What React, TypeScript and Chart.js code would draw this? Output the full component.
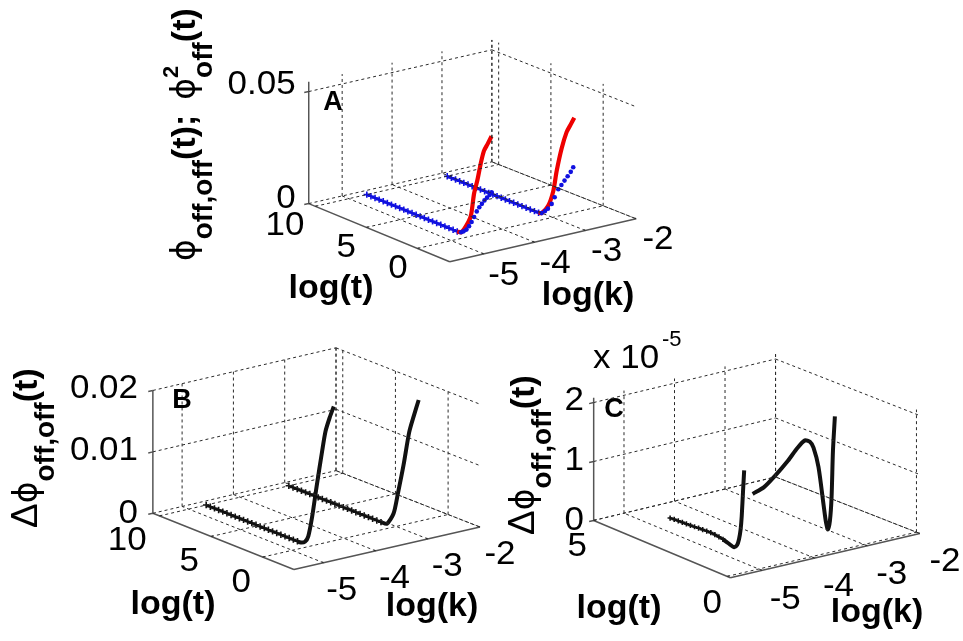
import React, { useEffect, useRef } from "react";
import { Chart, registerables } from "chart.js";

Chart.register(...registerables);

// ---- data ----
const kTicks = [-5, -4, -3, -2];
const tTicksLong = [0, 5, 10];
const tTicksShort = [0, 5];
const zTicksA = [0, 0.05];
const zTicksB = [0, 0.01, 0.02];
const zTicksC = [0, 1, 2];
const zLabelsA = ["0", "0.05"];
const zLabelsB = ["0", "0.01", "0.02"];
const zLabelsC = ["0", "1", "2"];

const kA1 = -4.64;
const kA2 = -3.03;
const kB1 = -4.66;
const kB2 = -3.05;
const kC1 = -4.57;
const kC2 = -2.97;

const flatT = [10, 9.6, 9.2, 8.8, 8.4, 8, 7.6, 7.2, 6.8, 6.4, 6, 5.6, 5.2, 4.8, 4.4, 4, 3.6, 3.2, 2.8, 2.4, 2, 1.6, 1.2];
const flatZ = [0, 0, 0, 0, 0, 0, 0, 0, 0, 0, 0, 0, 0, 0, 0, 0, 0, 0, 0, 0, 0, 0, 0];

const aRed1T = [1.2, 0.83, 0.36, -0.12, -0.44, -0.76, -1.08, -1.4, -1.75, -2.14];
const aRed1Z = [0, 0.0003, 0.0038, 0.0093, 0.02, 0.0265, 0.0344, 0.0408, 0.0445, 0.0487];
const aBlue1T = [0.83, 0.58, 0.3, 0.05, -0.2, -0.45, -0.7, -0.95, -1.2, -1.45, -1.7, -1.95, -2.14];
const aBlue1Z = [0.0003, 0.0012, 0.0025, 0.0045, 0.0068, 0.0095, 0.0125, 0.0148, 0.0168, 0.0188, 0.0205, 0.0222, 0.0237];
const aRed2T = [1.2, 0.9, 0.26, -0.22, -0.54, -1.02, -1.5, -1.9, -2.24];
const aRed2Z = [0, 0.0004, 0.005, 0.0124, 0.0218, 0.0328, 0.041, 0.0452, 0.0488];
const aBlue2T = [0.9, 0.58, 0.3, -0.06, -0.35, -0.7, -1, -1.3, -1.6, -1.9, -2.14];
const aBlue2Z = [0.0004, 0.0019, 0.0035, 0.0063, 0.0098, 0.014, 0.0165, 0.019, 0.0215, 0.024, 0.0265];

const b1T = [1.2, 0.89, 0.48, 0.16, -0.22, -0.64, -1.18, -1.5, -1.9, -2.3];
const b1Z = [0, 0, 0.0004, 0.0015, 0.005, 0.0101, 0.0163, 0.0197, 0.0222, 0.0243];
const b2T = [1.2, 0.64, 0, -0.41, -0.96, -1.5, -1.95, -2.4];
const b2Z = [0, 0.0001, 0.0022, 0.0057, 0.0108, 0.0165, 0.0195, 0.0223];

const c1FlatT = [4.1, 3.95, 3.8, 3.65, 3.5, 3.35, 3.2, 3.05, 2.9, 2.75, 2.6, 2.45, 2.3, 2.15];
const c1FlatZ = [0, 0.005, 0.01, 0.012, 0.015, 0.017, 0.022, 0.027, 0.03, 0.034, 0.036, 0.03, 0.02, 0.008];
const c1T = [2.15, 2.0, 1.9, 1.74, 1.63, 1.56, 1.5, 1.46, 1.41, 1.37];
const c1Z = [0.008, -0.015, -0.03, -0.05, 0.01, 0.12, 0.3, 0.53, 0.98, 1.325];
const c2T = [4.06, 3.65, 3.28, 2.79, 2.45, 2.18, 2.0, 1.87, 1.69, 1.5, 1.42, 1.35, 1.28, 1.22, 1.17, 1.1];
const c2Z = [0.087, 0.28, 0.528, 0.889, 1.17, 1.35, 1.36, 1.286, 0.989, 0.356, 0.1, -0.006, 0.15, 0.56, 1.36, 1.96];

// ---- how each little 3-D box sits on the page ----
type V2 = [number, number];
const boxA = { k: [-5.67, -2], t: [-3.16, 10.65], zMax: 0.0544, zScale: 2280, front: [449.3, 260.7] as V2, left: [306.7, 201.5] as V2, right: [638, 217] as V2, back: [492, 159] as V2 };
const boxB = { k: [-5.57, -2], t: [-3.03, 10.64], zMax: 0.02, zScale: 6250, front: [291.7, 574] as V2, left: [149, 516.7] as V2, right: [480, 530.7] as V2, back: [334.3, 473.3] as V2 };
const boxC = { k: [-5.6, -2], t: [-0.12, 5], zMax: 2.08, zScale: 60, front: [733.3, 582.3] as V2, left: [595, 524] as V2, right: [925, 537.3] as V2, back: [779, 479.7] as V2 };
type Box = typeof boxA;

function project(b: Box, k: number, t: number, z: number) {
  const u = (k - b.k[0]) / (b.k[1] - b.k[0]);
  const v = (t - b.t[0]) / (b.t[1] - b.t[0]);
  const f = (i: number) =>
    (1 - u) * (1 - v) * b.front[i] + u * (1 - v) * b.right[i] + (1 - u) * v * b.left[i] + u * v * b.back[i];
  return { x: f(0), y: f(1) - z * b.zScale };
}

const GAP = { x: NaN, y: NaN };

function segs(b: Box, list: number[][][]) {
  const out: { x: number; y: number }[] = [];
  list.forEach(([p, q]) => {
    out.push(project(b, p[0], p[1], p[2]), project(b, q[0], q[1], q[2]), GAP);
  });
  return out;
}

function gridSegments(b: Box, tTicks: number[], zTicks: number[]) {
  const [k0, k1] = b.k;
  const [t0, t1] = b.t;
  const list: number[][][] = [];
  kTicks.forEach((k) => {
    list.push([[k, t0, 0], [k, t1, 0]]);
    list.push([[k, t1, 0], [k, t1, b.zMax]]);
  });
  tTicks.forEach((t) => {
    list.push([[k0, t, 0], [k1, t, 0]]);
    list.push([[k1, t, 0], [k1, t, b.zMax]]);
  });
  zTicks.forEach((z) => {
    list.push([[k0, t1, z], [k1, t1, z]]);
    list.push([[k1, t1, z], [k1, t0, z]]);
  });
  list.push([[k1, t1, 0], [k1, t1, b.zMax]]);
  return segs(b, list);
}

function axisSegments(b: Box, tTicks: number[], zTicks: number[]) {
  const [k0, k1] = b.k;
  const [t0, t1] = b.t;
  const list: number[][][] = [
    [[k0, t0, 0], [k1, t0, 0]],
    [[k0, t0, 0], [k0, t1, 0]],
    [[k0, t1, 0], [k0, t1, b.zMax]],
  ];
  zTicks.forEach((z) => list.push([[k0, t1, z], [k0 - 0.09, t1, z]]));
  kTicks.forEach((k) => list.push([[k, t0, 0], [k, t0 + (t1 - t0) * 0.012, 0]]));
  tTicks.forEach((t) => list.push([[k0, t, 0], [k0 + 0.04, t, 0]]));
  return segs(b, list);
}

function curve(b: Box, k: number, ts: number[], zs: number[]) {
  return ts.map((t, i) => project(b, k, t, zs[i]));
}

const dash = (data: any[]) => ({ data, showLine: true, pointRadius: 0, borderColor: "#2a2a2a", borderWidth: 1, borderDash: [3, 3], spanGaps: false });
const solid = (data: any[]) => ({ data, showLine: true, pointRadius: 0, borderColor: "#555555", borderWidth: 1.5, spanGaps: false });
const thick = (data: any[], color: string, w = 4) => ({ data, showLine: true, pointRadius: 0, borderColor: color, borderWidth: w, tension: 0.25 });
const crossed = (data: any[], color: string, size = 3.2) => ({ data, showLine: true, pointStyle: "cross", pointRadius: size, pointBorderColor: color, pointBorderWidth: 1.6, borderColor: color, borderWidth: 2.4 });
const dots = (data: any[], color: string) => ({ data, showLine: false, pointStyle: "circle", pointRadius: 2.3, pointBackgroundColor: color, pointBorderColor: color, pointBorderWidth: 0 });

// ---- text ----
const SANS = '"Liberation Sans", Arial, sans-serif';
const TICK = `33px ${SANS}`;
const LABEL = `bold 34px ${SANS}`;
const MAIN = `bold 34px ${SANS}`;
const SUB = `bold 28px ${SANS}`;
const PHI = `33px "DejaVu Sans", ${SANS}`;
const DELTA = `37px ${SANS}`;
const SUP = `bold 22px ${SANS}`;
const STRETCH = 1.06;

type Run = { s: string; font: string; dy?: number; keep?: boolean };
const yLabelA: Run[] = [
  { s: "\u03d5", font: PHI },
  { s: "off,off", font: SUB, dy: 17 },
  { s: "(t)", font: MAIN },
  { s: "; ", font: MAIN },
  { s: " ", font: `20px ${SANS}` },
  { s: "\u03d5", font: PHI },
  { s: "2", font: SUP, dy: -17, keep: true },
  { s: "off", font: SUB, dy: 17 },
  { s: "(t)", font: MAIN },
];
const yLabelBC: Run[] = [
  { s: "\u0394", font: DELTA },
  { s: "\u03d5", font: PHI },
  { s: "off,off", font: SUB, dy: 17 },
  { s: "(t)", font: MAIN },
];

function drawRuns(ctx: CanvasRenderingContext2D, x: number, y: number, runs: Run[]) {
  ctx.save();
  ctx.translate(x, y);
  ctx.rotate(-Math.PI / 2);
  ctx.textAlign = "left";
  ctx.textBaseline = "alphabetic";
  let pos = 0;
  runs.forEach((r) => {
    ctx.font = r.font;
    ctx.fillText(r.s, pos, r.dy || 0);
    if (!r.keep) pos += ctx.measureText(r.s).width;
  });
  ctx.restore();
}

function put(ctx: CanvasRenderingContext2D, s: string, x: number, y: number, font: string, align: CanvasTextAlign, sx = 1) {
  ctx.save();
  ctx.translate(x, y);
  ctx.scale(sx, 1);
  ctx.font = font;
  ctx.textAlign = align;
  ctx.textBaseline = "middle";
  ctx.fillText(s, 0, 0);
  ctx.restore();
}

function drawTicks(
  ctx: CanvasRenderingContext2D,
  b: Box,
  tTicks: number[],
  zTicks: number[],
  zLabels: string[],
  off: { t: V2; k: V2; z: V2 }
) {
  tTicks.forEach((t) => {
    const p = project(b, b.k[0], t, 0);
    put(ctx, String(t), p.x + off.t[0], p.y + off.t[1], TICK, "right", STRETCH);
  });
  kTicks.forEach((k) => {
    const p = project(b, k, b.t[0], 0);
    put(ctx, String(k), p.x + off.k[0], p.y + off.k[1], TICK, "center", STRETCH);
  });
  zTicks.forEach((z, i) => {
    const p = project(b, b.k[0], b.t[1], z);
    put(ctx, zLabels[i], p.x + off.z[0], p.y + off.z[1], TICK, "right", STRETCH);
  });
}

const textPlugin = {
  id: "panelText",
  afterDatasetsDraw(chart: any) {
    const ctx: CanvasRenderingContext2D = chart.ctx;
    ctx.save();
    ctx.fillStyle = "#000";
    drawTicks(ctx, boxA, tTicksLong, zTicksA, zLabelsA, { t: [-9, 22], k: [20, 23], z: [-11, -3] });
    drawTicks(ctx, boxB, tTicksLong, zTicksB, zLabelsB, { t: [-9, 22], k: [20, 24], z: [-11, -3] });
    drawTicks(ctx, boxC, tTicksShort, zTicksC, zLabelsC, { t: [-8, 23], k: [20, 25], z: [-11, -3] });

    put(ctx, "log(t)", 331, 289, LABEL, "center");
    put(ctx, "log(k)", 588, 296, LABEL, "center");
    put(ctx, "log(t)", 173, 605, LABEL, "center");
    put(ctx, "log(k)", 432, 607, LABEL, "center");
    put(ctx, "log(t)", 619, 609, LABEL, "center");
    put(ctx, "log(k)", 877, 613, LABEL, "center");

    put(ctx, "A", 333, 103, `bold 27px ${SANS}`, "center");
    put(ctx, "B", 182, 401, `bold 27px ${SANS}`, "center");
    put(ctx, "C", 614, 410, `bold 27px ${SANS}`, "center");

    drawRuns(ctx, 195, 261, yLabelA);
    drawRuns(ctx, 37, 528, yLabelBC);
    drawRuns(ctx, 534, 535, yLabelBC);

    ctx.textBaseline = "alphabetic";
    ctx.textAlign = "left";
    ctx.save();
    ctx.translate(593, 368);
    ctx.scale(STRETCH, 1);
    ctx.font = `33px ${SANS}`;
    ctx.fillText("x 10", 0, 0);
    ctx.restore();
    ctx.font = `22px ${SANS}`;
    ctx.fillText("-5", 662, 346);
    ctx.restore();
  },
};

export default function App() {
  const ref = useRef<HTMLCanvasElement>(null);
  useEffect(() => {
    const datasets: any[] = [
      dash(gridSegments(boxA, tTicksLong, zTicksA)),
      dash(gridSegments(boxB, tTicksLong, zTicksB)),
      dash(gridSegments(boxC, tTicksShort, zTicksC)),
      solid(axisSegments(boxA, tTicksLong, zTicksA)),
      solid(axisSegments(boxB, tTicksLong, zTicksB)),
      solid(axisSegments(boxC, tTicksShort, zTicksC)),
      // A
      dots(curve(boxA, kA1, aBlue1T, aBlue1Z), "#1010e0"),
      dots(curve(boxA, kA2, aBlue2T, aBlue2Z), "#1010e0"),
      thick(curve(boxA, kA1, aRed1T, aRed1Z), "#ee0000", 4.2),
      thick(curve(boxA, kA2, aRed2T, aRed2Z), "#ee0000", 4.2),
      crossed(curve(boxA, kA1, flatT, flatZ), "#1010e0"),
      crossed(curve(boxA, kA2, flatT, flatZ), "#1010e0"),
      // B
      crossed(curve(boxB, kB1, flatT, flatZ), "#111111"),
      crossed(curve(boxB, kB2, flatT, flatZ), "#111111"),
      thick(curve(boxB, kB1, b1T, b1Z), "#111111"),
      thick(curve(boxB, kB2, b2T, b2Z), "#111111"),
      // C
      crossed(curve(boxC, kC1, c1FlatT, c1FlatZ), "#111111", 2.6),
      thick(curve(boxC, kC1, c1T, c1Z), "#111111"),
      thick(curve(boxC, kC2, c2T, c2Z), "#111111"),
    ];
    const chart = new Chart(ref.current as HTMLCanvasElement, {
      type: "scatter",
      data: { datasets },
      options: {
        animation: false,
        responsive: false,
        devicePixelRatio: 1,
        layout: { padding: 0 },
        plugins: { legend: { display: false }, tooltip: { enabled: false } },
        scales: {
          x: { type: "linear", min: 0, max: 963, display: false },
          y: { type: "linear", min: 0, max: 641, reverse: true, display: false },
        },
      },
      plugins: [textPlugin],
    } as any);
    return () => chart.destroy();
  }, []);
  return (
    <div style={{ position: "absolute", left: 0, top: 0, width: 963, height: 641, background: "#fff" }}>
      <canvas ref={ref} width={963} height={641} style={{ display: "block" }} />
    </div>
  );
}
